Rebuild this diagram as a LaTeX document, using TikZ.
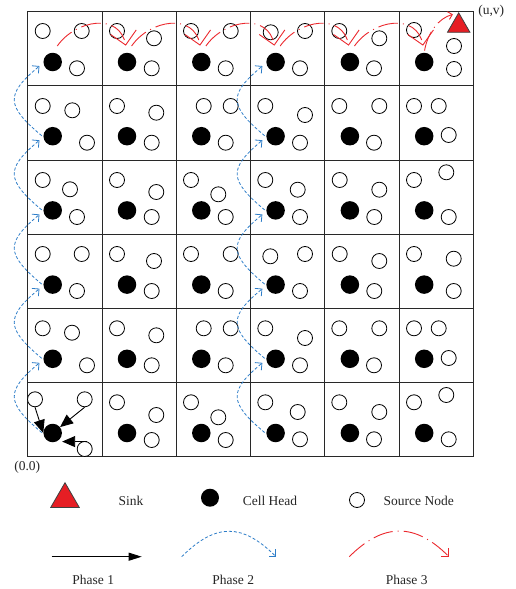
\documentclass[tikz,border=0pt]{standalone}
\usepackage{fontspec}
\setmainfont{Liberation Serif}
\usetikzlibrary{shapes.geometric, arrows.meta, calc}
\definecolor{sinkRed}{RGB}{230, 30, 36}
\definecolor{phaseBlue}{RGB}{45, 125, 200}
\definecolor{phaseRed}{RGB}{235, 40, 45}
\definecolor{gridGray}{RGB}{40, 40, 40}

\begin{document}
\begin{tikzpicture}[
    x=1pt, y=1pt,
    gridline/.style={draw=gridGray, line width=0.9pt, line cap=rect},
    cellhead/.style={circle, fill=black, minimum size=18.5pt, inner sep=0pt},
    source/.style={circle, draw=black, fill=white, line width=0.8pt, minimum size=15pt, inner sep=0pt},
    sinknode/.style={regular polygon, regular polygon sides=3, draw=black!75, fill=sinkRed, line width=0.8pt, inner sep=0pt, outer sep=0pt, minimum size=26pt},
    legendtext/.style={font=\fontsize{13.5}{16}\selectfont, text=black!85, inner sep=1pt},
    phaseone/.style={-{Triangle[length=13pt,width=11pt]}, line width=0.9pt, black},
    phasetwo/.style={-{Straight Barb[length=5pt,width=10pt]}, dash pattern=on 3pt off 2pt, line width=0.8pt, phaseBlue},
    phasethree/.style={-{Straight Barb[length=5.5pt,width=11pt]}, dash pattern=on 20pt off 5pt on 1pt off 5pt, line width=0.9pt, phaseRed}
]

\useasboundingbox (0,0) rectangle (515,-589);

% 6 x 6 cells
\foreach \i in {0,...,6} {
    \draw[gridline] ({27.7+74.3*\i},-11.7) -- ({27.7+74.3*\i},-456.7);
    \draw[gridline] (27.7,{-11.7-74.17*\i}) -- (473.5,{-11.7-74.17*\i});
}

% Cell heads, one per cell
\foreach \c in {1,...,6}
    \foreach \r in {1,...,6}
        \node[cellhead] (head-\c-\r) at ({52.7+74.3*(\c-1)}, {-62-74.2*(\r-1)}) {};

% Source nodes (row by row, top to bottom)
\foreach \x/\y [count=\k] in {
    42.7/31, 81.7/31, 77/68.3, 117/31, 154/38.3, 151.7/68.3, 191/31, 230.7/31, 225.7/68.3,
    270.7/32.3, 305/31, 300/68.3, 339.3/31, 379.3/38.3, 374/68.3, 414/30, 454/46, 454/69,
    42.7/106, 72.3/110.3, 87/142.7, 117/106, 156.3/112.7, 151.7/142.7, 203.7/106, 230.7/106, 225.7/142.7,
    265.3/106, 305/115, 300/142.7, 339.3/106, 379.3/106, 374/142.7, 414/106, 438.7/106, 448.7/135,
    42.7/180, 70/189.3, 77/217, 117/180, 156.3/192, 151.7/217, 191/180, 218.3/194.3, 225.7/217,
    265.3/180, 297.7/189.7, 300/217, 339.7/180, 379.3/189.7, 374.3/217, 414/180, 446.3/172.3, 448.7/217,
    42.7/254, 81.7/254, 77/291, 117/254, 154/261, 151.7/291, 191/254, 230.7/254, 225.7/291,
    270.3/256.3, 305/254, 300/291, 339.7/254, 379.3/261, 374.3/291, 414/254, 453.7/258.7, 453.7/291,
    42.7/328.3, 72/332.7, 87/365.3, 117/328.3, 156.3/335.3, 151.7/365.3, 203.7/328.3, 230.7/328.3, 225.7/365.3,
    265.3/328.3, 305/338, 300/365.3, 339.3/328.3, 379.3/328.3, 374/365.3, 414/328.3, 438.7/328.3, 448.7/358,
    117/402.3, 156.3/415, 151.7/440, 191/402.3, 218.3/417.3, 225.7/440,
    265.3/402.3, 297.7/412, 300/439.3, 339.3/402.3, 379.3/412, 374/439.3, 414/402.3, 446.3/395, 448.7/439.3}
    \node[source] (src-\k) at (\x,-\y) {};

% Bottom-left cell sources
\node[source] (src-a) at (35,-399.3) {};
\node[source] (src-b) at (84.7,-399.3) {};
\node[source] (src-c) at (84.7,-449) {};

\node[sinknode] (sink) at (458.7,-25.8) {};
\node[legendtext] (corner) at (491.3,-11.3) {(u,v)};
\node[legendtext] (origin) at (27.3,-467.3) {(0.0)};

% Phase 1
\draw[phaseone] (src-a.south) -- (head-1-6.west);
\draw[phaseone] (src-b.south) -- (head-1-6);
\draw[phaseone] (src-c.70) -- (src-c.70 -| head-1-6.east);

% Phase 2
\foreach \c in {1,4}
    \foreach \r [remember=\r as \prevrow (initially 6)] in {5,...,1}
        \draw[phasetwo, shorten <=2pt, shorten >=5pt] (head-\c-\prevrow.185) to[out=140, in=220, looseness=1.7] (head-\c-\r.185);

% Phase 3
\foreach \c [remember=\c as \prevcol (initially 1)] in {2,...,6}
    \draw[phasethree, -{Straight Barb[length=13pt,width=26pt]}, shorten <=8pt, shorten >=7pt] (head-\prevcol-1.north) to[out=55, in=100, looseness=1.4] (head-\c-1.north);
\draw[phasethree, -{Straight Barb[length=4pt,width=8pt]}, shorten <=2pt, shorten >=6pt] (head-6-1.north) to[out=80, in=195] (sink.corner 1);

% Legend
\node[sinknode, minimum size=33pt] (keysink) at (65,-499.2) {};
\node[legendtext] (keysinktxt) at (131,-500.7) {Sink};
\node[cellhead, minimum size=18pt] (keyhead) at (210,-497.7) {};
\node[legendtext] (keyheadtxt) at (270,-500.7) {Cell Head};
\node[source] (keysrc) at (357,-500) {};
\node[legendtext] (keysrctxt) at (418.7,-500.7) {Source Node};

\coordinate (oneStart) at (51.7,-556.7);
\coordinate (oneEnd) at (141.7,-556.7);
\draw[phaseone, -{Triangle[length=13pt,width=8pt]}] (oneStart) -- (oneEnd);
\node[legendtext] (onetxt) at (93.3,-580) {Phase 1};

\coordinate (twoStart) at (181.7,-556.7);
\coordinate (twoEnd) at (276,-556.7);
\draw[phasetwo] (twoStart) to[out=45, in=135, looseness=1.3] (twoEnd);
\node[legendtext] (twotxt) at (233.3,-580) {Phase 2};

\coordinate (threeStart) at (349.3,-556.7);
\coordinate (threeEnd) at (449,-556.7);
\draw[phasethree] (threeStart) to[out=45, in=135, looseness=1.24] (threeEnd);
\node[legendtext] (threetxt) at (406.7,-580) {Phase 3};

\end{tikzpicture}
\end{document}
